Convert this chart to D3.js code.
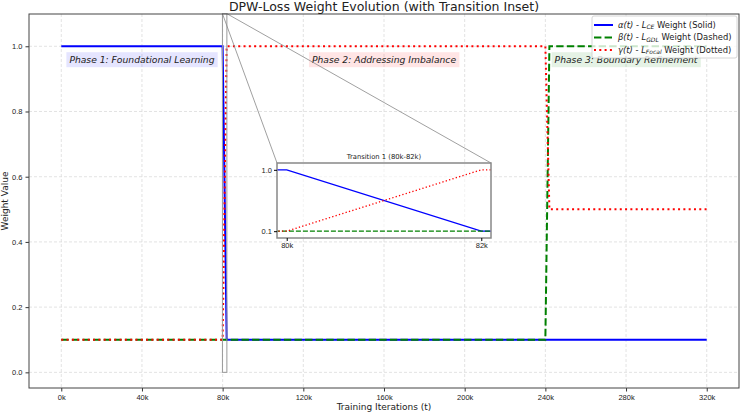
<!DOCTYPE html>
<html>
<head>
<meta charset="utf-8">
<script src="https://cdn.jsdelivr.net/npm/d3@7"></script>
<style>
  body { margin: 0; background: #fff; }
  svg { font-family: "DejaVu Sans", sans-serif; }
</style>
</head>
<body>
<svg id="chart" width="740" height="413"></svg>
<script>
// key points of the schedule (iterations) and the weights at them
const iterations = [0, 80000, 82000, 240000, 242000, 320000];
const alphaW = [1.0, 1.0, 0.1, 0.1, 0.1, 0.1];
const betaW = [0.1, 0.1, 0.1, 0.1, 1.0, 1.0];
const gammaW = [0.1, 0.1, 1.0, 1.0, 0.5, 0.5];

const xTicks = [0, 40000, 80000, 120000, 160000, 200000, 240000, 280000, 320000];
const yTicks = [0.0, 0.2, 0.4, 0.6, 0.8, 1.0];
const insetXTicks = [80000, 82000];
const insetYTicks = [0.1, 1.0];

const seriesNames = ["alpha", "beta", "gamma"];
const legendLabels = [
    ["α(t)", "L", "CE", " Weight (Solid)"],
    ["β(t)", "L", "GDL", " Weight (Dashed)"],
    ["γ(t)", "L", "Focal", " Weight (Dotted)"]
];
const phaseLabels = ["Phase 1: Foundational Learning", "Phase 2: Addressing Imbalance", "Phase 3: Boundary Refinement"];
const phaseCenters = [40000, 160000, 280000];
const phaseY = 0.958;

const svg = d3.select("#chart");
const margin = { top: 14, right: 1, bottom: 25, left: 29 };
const width = 740, height = 413;

const x = d3.scaleLinear().domain([-16000, 336000]).range([margin.left, width - margin.right]);
const y = d3.scaleLinear().domain([-0.048, 1.099]).range([height - margin.bottom, margin.top]);

const styles = {
    alpha: { color: "#0000ff", dash: null, width: 2 },
    beta: { color: "#008000", dash: "7.4,3.2", width: 2 },
    gamma: { color: "#ff0000", dash: "2,3.3", width: 2 }
};
const values = { alpha: alphaW, beta: betaW, gamma: gammaW };

function seriesData(name) {
    return iterations.map((t, i) => [t, values[name][i]]);
}

// grid
const grid = svg.append("g").attr("stroke", "#dcdcdc").attr("stroke-width", 0.8).attr("stroke-dasharray", "3,2");
grid.selectAll(".vx").data(xTicks).join("line")
    .attr("x1", d => x(d)).attr("x2", d => x(d))
    .attr("y1", margin.top).attr("y2", height - margin.bottom);
grid.selectAll(".hy").data(yTicks).join("line")
    .attr("x1", margin.left).attr("x2", width - margin.right)
    .attr("y1", d => y(d)).attr("y2", d => y(d));

// main lines
const line = d3.line().x(d => x(d[0])).y(d => y(d[1]));
seriesNames.forEach(name => {
    svg.append("path")
        .datum(seriesData(name))
        .attr("fill", "none")
        .attr("stroke", styles[name].color)
        .attr("stroke-width", styles[name].width)
        .attr("stroke-dasharray", styles[name].dash)
        .attr("d", line);
});

// axes
svg.append("g")
    .attr("transform", `translate(0,${height - margin.bottom})`)
    .call(d3.axisBottom(x).tickValues(xTicks).tickFormat(d => (d / 1000) + "k").tickSizeOuter(0).tickSize(3.5).tickPadding(3))
    .call(g => g.select(".domain").remove())
    .call(g => g.selectAll("text").attr("font-size", 7.5).attr("fill", "#222"))
    .call(g => g.selectAll("line").attr("stroke", "#333"));
svg.append("g")
    .attr("transform", `translate(${margin.left},0)`)
    .call(d3.axisLeft(y).tickValues(yTicks).tickFormat(d3.format(".1f")).tickSizeOuter(0).tickSize(3.5).tickPadding(3))
    .call(g => g.select(".domain").remove())
    .call(g => g.selectAll("text").attr("font-size", 7.5).attr("fill", "#222"))
    .call(g => g.selectAll("line").attr("stroke", "#333"));

// phase labels
const phaseFill = ["#0000ff", "#ff0000", "#008000"];
phaseLabels.forEach((label, i) => {
    const g = svg.append("g");
    const t = g.append("text")
        .attr("x", x(phaseCenters[i]))
        .attr("y", y(phaseY))
        .attr("dy", "0.35em")
        .attr("text-anchor", "middle")
        .attr("font-size", 9.2)
        .attr("font-style", "italic")
        .attr("fill", "#222")
        .text(label);
    const b = t.node().getBBox();
    g.insert("rect", "text")
        .attr("x", b.x - 3).attr("y", b.y - 2)
        .attr("width", b.width + 6).attr("height", b.height + 4)
        .attr("fill", phaseFill[i]).attr("fill-opacity", 0.1);
});

// inset region marker and connectors
const inX = d3.scaleLinear().domain([79900, 82100]).range([277, 491]);
const inY = d3.scaleLinear().domain([0, 1.1]).range([238, 163]);
const [ix0, ix1] = inX.domain(), [iy0, iy1] = inY.domain();
svg.append("rect")
    .attr("x", x(ix0)).attr("y", y(iy1))
    .attr("width", x(ix1) - x(ix0)).attr("height", y(iy0) - y(iy1))
    .attr("fill", "none").attr("stroke", "#999").attr("stroke-width", 1);
svg.append("line")
    .attr("x1", x(ix0)).attr("y1", y(iy1)).attr("x2", inX.range()[0]).attr("y2", inY.range()[1])
    .attr("stroke", "#888").attr("stroke-width", 0.8);
svg.append("line")
    .attr("x1", x(ix1)).attr("y1", y(iy1)).attr("x2", inX.range()[1]).attr("y2", inY.range()[1])
    .attr("stroke", "#888").attr("stroke-width", 0.8);

// inset
const inset = svg.append("g");
inset.append("clipPath").attr("id", "insetClip").append("rect")
    .attr("x", 277).attr("y", 163).attr("width", 214).attr("height", 75);
inset.append("rect").attr("x", 277).attr("y", 163).attr("width", 214).attr("height", 75)
    .attr("fill", "#fff").attr("fill-opacity", 0.6);
const inLine = d3.line().x(d => inX(d[0])).y(d => inY(d[1]));
const inStyles = {
    alpha: { dash: null, width: 1.3 },
    beta: { dash: "5,2", width: 1.3 },
    gamma: { dash: "1.3,2.2", width: 1.3 }
};
seriesNames.forEach(name => {
    inset.append("path")
        .datum(seriesData(name))
        .attr("clip-path", "url(#insetClip)")
        .attr("fill", "none")
        .attr("stroke", styles[name].color)
        .attr("stroke-width", inStyles[name].width)
        .attr("stroke-dasharray", inStyles[name].dash)
        .attr("d", inLine);
});
inset.append("rect").attr("x", 277).attr("y", 163).attr("width", 214).attr("height", 75)
    .attr("fill", "none").attr("stroke", "#888").attr("stroke-width", 1.5);
inset.append("g")
    .attr("transform", "translate(0,238)")
    .call(d3.axisBottom(inX).tickValues(insetXTicks).tickFormat(d => (d / 1000) + "k").tickSize(3).tickPadding(2))
    .call(g => g.select(".domain").remove())
    .call(g => g.selectAll("text").attr("font-size", 7.5).attr("fill", "#222"));
inset.append("g")
    .attr("transform", "translate(277,0)")
    .call(d3.axisLeft(inY).tickValues(insetYTicks).tickFormat(d3.format(".1f")).tickSize(3).tickPadding(2))
    .call(g => g.select(".domain").remove())
    .call(g => g.selectAll("text").attr("font-size", 7.5).attr("fill", "#222"));
inset.append("text")
    .attr("x", 384).attr("y", 159)
    .attr("text-anchor", "middle").attr("font-size", 6.8)
    .attr("fill", "#222")
    .text("Transition 1 (80k-82k)");

// main frame
svg.append("rect")
    .attr("x", margin.left).attr("y", margin.top)
    .attr("width", width - margin.right - margin.left).attr("height", height - margin.bottom - margin.top)
    .attr("fill", "none").attr("stroke", "#444").attr("stroke-width", 1);

// legend
const legend = svg.append("g").attr("transform", "translate(592,16)");
legend.append("rect").attr("width", 145).attr("height", 42).attr("rx", 2)
    .attr("fill", "#fff").attr("fill-opacity", 0.8).attr("stroke", "#ccc").attr("stroke-width", 0.8);
legendLabels.forEach((parts, i) => {
    const name = seriesNames[i];
    const ly = 9 + i * 12.5;
    legend.append("line")
        .attr("x1", 2).attr("x2", 21).attr("y1", ly).attr("y2", ly)
        .attr("stroke", styles[name].color).attr("stroke-width", 2)
        .attr("stroke-dasharray", styles[name].dash);
    const t = legend.append("text").attr("x", 26).attr("y", ly).attr("dy", "0.35em")
        .attr("font-size", 8.4).attr("fill", "#222");
    t.append("tspan").attr("font-style", "italic").text(parts[0]);
    t.append("tspan").text(" - ");
    t.append("tspan").attr("font-style", "italic").text(parts[1]);
    t.append("tspan").attr("font-style", "italic").attr("font-size", 6).attr("dy", "0.25em").text(parts[2]);
    t.append("tspan").attr("dy", "-0.18em").text(parts[3]);
});

// title and axis labels
svg.append("text").attr("x", (margin.left + width - margin.right) / 2).attr("y", 10.5)
    .attr("text-anchor", "middle").attr("font-size", 12.5).attr("fill", "#222")
    .text("DPW-Loss Weight Evolution (with Transition Inset)");
svg.append("text").attr("x", (margin.left + width - margin.right) / 2).attr("y", 410)
    .attr("text-anchor", "middle").attr("font-size", 9).attr("fill", "#222")
    .text("Training Iterations (t)");
svg.append("text")
    .attr("transform", `translate(8,${(margin.top + height - margin.bottom) / 2}) rotate(-90)`)
    .attr("text-anchor", "middle").attr("font-size", 9).attr("fill", "#222")
    .text("Weight Value");
</script>
</body>
</html>
